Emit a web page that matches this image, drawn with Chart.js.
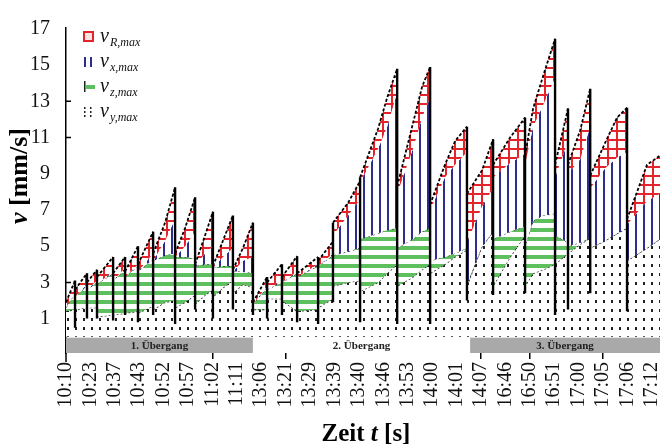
<!DOCTYPE html>
<html>
<head>
<meta charset="utf-8">
<script src="https://cdn.jsdelivr.net/npm/chart.js@4.4.0/dist/chart.umd.min.js"></script>
<style>
  html, body { margin: 0; padding: 0; background: #fff; }
  #wrap { width: 660px; height: 444px; position: relative; }
</style>
</head>
<body>
<div id="wrap"><canvas id="chart"></canvas></div>
<script>
// x axis: one tick per label, the time stamps of the measurements
const timeLabels = ['10:10', '10:23', '10:37', '10:43', '10:52', '10:57', '11:02', '11:11',
  '13:06', '13:21', '13:29', '13:39', '13:40', '13:46', '13:53', '14:00', '14:01', '14:07',
  '16:46', '16:50', '16:51', '17:00', '17:05', '17:06', '17:12'];
const xTickMarks = [6, 9, 17, 19, 22];
const yTicks = [1, 3, 5, 7, 9, 11, 13, 15, 17];
const yTickMarks = [3, 11, 13];

const phaseNames = ['1. Übergang', '2. Übergang', '3. Übergang'];
const phaseFrom = [0, 7.66, 16.56];
const phaseTo = [7.66, 16.56, 24.34];
const phaseShade = [true, false, true];

// position along the time axis (in label steps)
const t = [0, 0.37, 0.37, 0.37, 0.86, 0.86, 0.86, 1.27, 1.27, 1.27,
  1.93, 1.93, 1.93, 2.42, 2.42, 2.42, 2.95, 2.95, 2.95, 3.57,
  3.57, 3.57, 4.06, 4.47, 4.47, 4.47, 4.88, 5.29, 5.29, 5.29,
  5.70, 6.02, 6.02, 6.02, 6.43, 6.84, 6.84, 6.84, 7.25, 7.66,
  7.66, 7.66, 8.24, 8.24, 8.24, 8.85, 8.85, 8.85, 9.47, 9.47,
  9.47, 10.33, 10.33, 10.33, 10.94, 10.94, 10.94, 11.56, 12.05, 12.05,
  12.05, 12.79, 13.16, 13.57, 13.57, 13.57, 14.22, 14.59, 14.92, 14.92,
  14.92, 15.53, 15.94, 16.43, 16.43, 16.43, 17.05, 17.50, 17.50, 17.50,
  18.20, 18.81, 18.81, 18.81, 19.14, 19.55, 20.04, 20.04, 20.04, 20.57,
  20.57, 20.57, 21.07, 21.48, 21.48, 21.48, 22.09, 22.58, 22.99, 22.99,
  22.99, 23.81, 24.34];

// v_R,max (top envelope, incl. the drops of the signal)
const vR = [1.9, 3.1, 0.5, 2.6, 3.5, 1.0, 3.0, 3.7, 1.0, 3.3,
  4.4, 0.9, 3.5, 4.4, 1.2, 3.6, 5.0, 0.8, 4.0, 5.8,
  1.2, 4.6, 6.3, 8.25, 0.7, 4.6, 6.0, 7.7, 1.5, 4.0,
  5.6, 6.9, 1.0, 3.9, 5.3, 6.7, 1.5, 3.7, 4.9, 6.3,
  1.2, 1.9, 3.3, 1.0, 3.0, 4.0, 1.2, 3.3, 4.45, 0.8,
  3.5, 4.4, 0.7, 4.2, 5.25, 1.9, 6.3, 7.4, 8.6, 0.8,
  8.8, 11.5, 13.2, 14.8, 0.7, 8.3, 11.8, 13.8, 14.9, 0.7,
  7.3, 9.5, 10.8, 11.6, 2.0, 7.9, 9.2, 10.9, 2.3, 9.5,
  11.0, 12.1, 2.4, 10.0, 12.6, 14.4, 16.45, 1.2, 9.5, 12.6,
  1.5, 9.5, 11.4, 13.7, 2.4, 8.9, 10.7, 12.1, 12.65, 1.4,
  6.5, 9.5, 10.0];

// v_x,max
const vX = [1.6, 2.5, 2.5, 2.2, 2.9, 2.9, 2.6, 3.1, 3.1, 2.9,
  3.6, 3.6, 3.1, 3.8, 3.8, 3.3, 4.0, 4.0, 3.6, 4.6,
  4.6, 4.2, 5.3, 6.5, 6.5, 4.4, 5.0, 5.8, 5.8, 3.9,
  4.6, 5.0, 5.0, 3.8, 4.4, 4.9, 4.9, 3.6, 4.2, 4.4,
  4.4, 1.8, 2.8, 2.8, 2.6, 3.1, 3.1, 3.0, 3.6, 3.6,
  3.3, 4.0, 4.0, 3.9, 4.6, 4.6, 5.6, 6.7, 7.6, 7.6,
  8.5, 10.4, 11.6, 13.5, 13.5, 7.9, 10.4, 12.1, 13.2, 13.2,
  7.0, 8.8, 9.5, 10.2, 10.2, 5.2, 7.2, 8.2, 8.2, 8.8,
  9.6, 10.1, 10.1, 9.5, 11.6, 12.8, 14.3, 14.3, 8.8, 10.8,
  10.8, 9.0, 9.8, 11.6, 11.6, 8.2, 9.3, 9.9, 10.2, 10.2,
  6.2, 7.5, 7.9];

// v_z,max
const vZ = [1.6, 2.4, 2.4, 2.2, 2.8, 2.8, 2.6, 3.0, 3.0, 2.9,
  3.5, 3.5, 3.1, 3.7, 3.7, 3.3, 3.9, 3.9, 3.6, 4.3,
  4.3, 4.2, 4.5, 4.6, 4.6, 4.4, 4.4, 4.3, 4.3, 3.9,
  4.0, 4.0, 4.0, 3.8, 3.9, 3.9, 3.9, 3.6, 3.6, 3.5,
  3.5, 1.8, 2.7, 2.7, 2.6, 3.0, 3.0, 3.0, 3.5, 3.5,
  3.3, 3.9, 3.9, 3.9, 4.5, 4.5, 4.5, 4.7, 4.9, 4.9,
  5.4, 5.7, 5.9, 6.0, 6.0, 4.9, 5.4, 5.8, 6.0, 6.0,
  4.2, 4.4, 4.6, 4.9, 4.9, 2.9, 5.0, 5.8, 5.8, 5.4,
  5.8, 6.1, 6.1, 5.0, 6.4, 6.7, 6.8, 6.8, 5.6, 5.2,
  5.2, 5.0, 5.2, 5.45, 5.45, 4.9, 5.3, 5.7, 6.0, 6.0,
  4.2, 4.9, 5.4];

// v_y,max (bottom layer)
const vY = [1.4, 1.5, 1.5, 1.5, 1.6, 1.6, 1.6, 1.6, 1.6, 1.1,
  1.2, 1.2, 1.2, 1.3, 1.3, 1.3, 1.4, 1.4, 1.3, 1.7,
  1.7, 1.5, 1.9, 2.0, 2.0, 1.6, 1.9, 2.3, 2.3, 1.8,
  2.3, 2.6, 2.6, 2.2, 2.7, 3.1, 3.1, 2.4, 2.9, 2.7,
  2.7, 1.5, 1.5, 1.5, 2.1, 2.1, 2.1, 2.0, 1.4, 1.4,
  1.4, 1.5, 1.5, 1.6, 2.1, 2.1, 2.8, 3.0, 3.1, 3.1,
  2.5, 3.0, 3.5, 4.0, 4.0, 2.8, 3.3, 3.7, 4.0, 4.0,
  3.5, 4.0, 4.4, 4.8, 4.8, 2.8, 5.0, 5.8, 5.8, 2.8,
  4.4, 5.6, 5.6, 2.8, 3.5, 3.7, 4.0, 4.0, 4.0, 4.6,
  4.6, 4.6, 5.1, 5.45, 5.45, 4.9, 5.3, 5.7, 6.0, 6.0,
  4.2, 4.9, 5.4];

const legendSubs = ['R,max', 'x,max', 'z,max', 'y,max'];

const serif = "'Liberation Serif', 'Times New Roman', serif";
const canvas = document.getElementById('chart');
const ctx = canvas.getContext('2d');

function makePattern(w, h, paint) {
  const c = document.createElement('canvas');
  c.width = w;
  c.height = h;
  const g = c.getContext('2d');
  g.fillStyle = '#fff';
  g.fillRect(0, 0, w, h);
  paint(g);
  return ctx.createPattern(c, 'repeat');
}

const redGrid = makePattern(9, 9, g => {
  g.fillStyle = '#e3242b';
  g.fillRect(0, 4, 9, 2);
  g.fillRect(4, 0, 2, 9);
});
const blueLines = makePattern(8, 4, g => {
  g.fillStyle = '#2b2c8c';
  g.fillRect(3, 0, 2, 4);
});
const greenLines = makePattern(4, 9, g => {
  g.fillStyle = '#5dbf5d';
  g.fillRect(0, 3, 4, 4);
});
const dots = makePattern(8, 9, g => {
  g.fillStyle = '#222';
  g.fillRect(3, 3, 2, 3);
});

const pts = arr => arr.map((v, i) => ({ x: t[i], y: v }));
const isDrop = c => Math.abs(c.p0.x - c.p1.x) < 0.5;

const decor = {
  id: 'decor',
  beforeDraw(chart) {
    const g = chart.ctx;
    g.save();
    g.fillStyle = '#fff';
    g.fillRect(0, 0, chart.width, chart.height);
    g.restore();
  },
  afterDatasetsDraw(chart) {
    const g = chart.ctx;
    const xs = chart.scales.x, ys = chart.scales.y;
    const top = ys.getPixelForValue(0), bot = chart.chartArea.bottom;
    g.save();
    phaseNames.forEach((name, i) => {
      const x0 = xs.getPixelForValue(phaseFrom[i]);
      const x1 = xs.getPixelForValue(phaseTo[i]);
      g.fillStyle = phaseShade[i] ? '#a9a9a9' : '#fff';
      g.fillRect(x0, top + 1, x1 - x0, bot - top - 1);
      g.fillStyle = '#222';
      g.font = 'bold 11px ' + serif;
      g.textAlign = 'center';
      g.textBaseline = 'middle';
      g.fillText(name, (x0 + x1) / 2, (top + bot) / 2 + 1);
    });
    g.restore();
  },
  afterDraw(chart) {
    const g = chart.ctx;
    const ys = chart.scales.y;
    const left = chart.chartArea.left, bot = chart.chartArea.bottom;
    g.save();
    // y axis runs a bit below the time axis, ticks point inward
    g.strokeStyle = '#000';
    g.lineWidth = 1.5;
    g.beginPath();
    g.moveTo(left, bot);
    g.lineTo(left, bot + 9);
    yTickMarks.forEach(v => {
      const y = ys.getPixelForValue(v);
      g.moveTo(left, y);
      g.lineTo(left + 5, y);
    });
    g.stroke();

    // legend
    const rows = [42, 67, 92, 117];
    const sx = 84;
    g.strokeStyle = '#e3242b';
    g.lineWidth = 2;
    g.fillStyle = '#fbe3e3';
    g.fillRect(sx, rows[0] - 10, 9, 9);
    g.strokeRect(sx, rows[0] - 10, 9, 9);
    g.fillStyle = '#2b2c8c';
    g.fillRect(sx, rows[1] - 10, 2, 10);
    g.fillRect(sx + 6, rows[1] - 10, 2, 10);
    g.fillStyle = '#222';
    g.fillRect(sx, rows[2] - 11, 1.5, 11);
    g.fillStyle = '#5dbf5d';
    g.fillRect(sx + 2, rows[2] - 7, 9, 4);
    g.fillStyle = '#222';
    [0, 6].forEach(dx => {
      [-10, -6, -2].forEach(dy => g.fillRect(sx + dx, rows[3] + dy, 1.5, 2));
    });
    legendSubs.forEach((sub, i) => {
      g.fillStyle = '#111';
      g.textAlign = 'left';
      g.textBaseline = 'alphabetic';
      g.font = 'italic 20px ' + serif;
      g.fillText('v', 100, rows[i]);
      g.font = 'italic 12px ' + serif;
      g.fillText(sub, 110, rows[i] + 4);
    });

    // x title: Zeit t [s]
    g.fillStyle = '#000';
    const parts = [['Zeit ', 'bold'], ['t', 'bold italic'], [' [s]', 'bold']];
    let w = 0;
    parts.forEach(p => { g.font = p[1] + ' 25px ' + serif; w += g.measureText(p[0]).width; });
    let x = 366 - w / 2;
    parts.forEach(p => {
      g.font = p[1] + ' 25px ' + serif;
      g.fillText(p[0], x, 441);
      x += g.measureText(p[0]).width;
    });

    // y title: v [mm/s]
    g.translate(27, 176);
    g.rotate(-Math.PI / 2);
    const yparts = [['v', 'bold italic'], [' [mm/s]', 'bold']];
    w = 0;
    yparts.forEach(p => { g.font = p[1] + ' 26px ' + serif; w += g.measureText(p[0]).width; });
    x = -w / 2;
    yparts.forEach(p => {
      g.font = p[1] + ' 26px ' + serif;
      g.fillText(p[0], x, 0);
      x += g.measureText(p[0]).width;
    });
    g.restore();
  }
};

new Chart(ctx, {
  type: 'line',
  data: {
    datasets: [
      {
        label: 'v_y,max',
        data: pts(vY),
        fill: 'origin',
        backgroundColor: dots,
        borderColor: '#111',
        borderWidth: 1.2,
        borderDash: [2, 2],
        order: 3
      },
      {
        label: 'v_z,max',
        data: pts(vZ),
        fill: '-1',
        backgroundColor: greenLines,
        borderColor: '#111',
        borderWidth: 1,
        borderDash: [2, 3],
        order: 2
      },
      {
        label: 'v_x,max',
        data: pts(vX),
        fill: '-1',
        backgroundColor: blueLines,
        borderColor: 'rgba(0,0,0,0)',
        borderWidth: 0,
        order: 1
      },
      {
        label: 'v_R,max',
        data: pts(vR),
        fill: '-1',
        backgroundColor: redGrid,
        borderColor: '#000',
        borderWidth: 1.6,
        order: 0,
        segment: {
          borderDash: c => isDrop(c) ? [] : [3, 2],
          borderWidth: c => isDrop(c) ? 2.4 : 1.8
        }
      }
    ]
  },
  options: {
    responsive: true,
    maintainAspectRatio: false,
    animation: false,
    layout: { padding: { top: 13, right: 0, bottom: 0, left: 0 } },
    elements: { point: { radius: 0 }, line: { tension: 0 } },
    plugins: { legend: { display: false }, tooltip: { enabled: false } },
    scales: {
      x: {
        type: 'linear',
        min: 0,
        max: 24.34,
        afterBuildTicks: s => { s.ticks = timeLabels.map((_, i) => ({ value: i })); },
        afterFit: s => { s.height = 91; s.paddingLeft = 0; s.paddingRight = 0; },
        border: { display: false },
        grid: {
          drawOnChartArea: false,
          drawTicks: true,
          tickLength: 6,
          lineWidth: 1.5,
          color: c => (c.tick && xTickMarks.includes(c.tick.value)) ? '#000' : 'rgba(0,0,0,0)'
        },
        ticks: {
          autoSkip: false,
          minRotation: 90,
          maxRotation: 90,
          padding: 3,
          color: '#111',
          font: { family: serif, size: 20 },
          callback: v => timeLabels[Math.round(v)]
        }
      },
      y: {
        min: -0.9,
        max: 17.05,
        afterBuildTicks: s => { s.ticks = yTicks.map(v => ({ value: v })); },
        afterFit: s => { s.width = 66; },
        border: { display: true, color: '#000', width: 1.5 },
        grid: { display: false, drawTicks: false },
        ticks: {
          padding: 16,
          color: '#111',
          font: { family: serif, size: 20 }
        }
      }
    }
  },
  plugins: [decor]
});
</script>
</body>
</html>
